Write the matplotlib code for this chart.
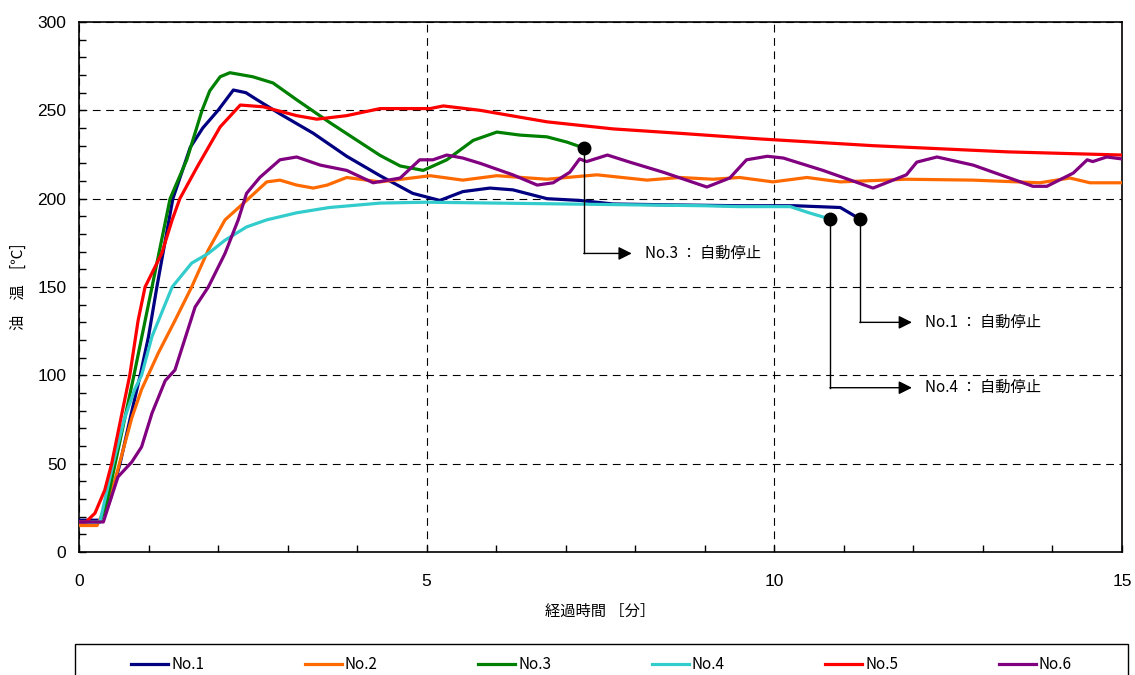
import matplotlib
matplotlib.use("Agg")
import matplotlib.pyplot as plt
from matplotlib.ticker import MultipleLocator
from matplotlib.patches import Rectangle

# 経過時間 [分] と 油温 [℃]
no1_t = [0, 0.3, 0.45, 0.59, 0.75, 0.88, 1.0, 1.12, 1.35, 1.6, 1.78, 2.0, 2.22, 2.4, 2.56, 2.89,
         3.37, 3.85, 4.33, 4.8, 5.19, 5.52, 5.91, 6.24, 6.73, 7.2, 7.68, 8.5, 9.5, 10.3, 10.95, 11.23]
no1_T = [18, 18, 30, 50, 78, 100, 122, 150, 200, 229, 240, 250, 261.5, 260, 256, 248,
         237, 224, 213, 203, 199, 204, 206, 205, 200, 199, 197, 196.5, 196, 196, 195, 188.5]

no2_t = [0, 0.26, 0.4, 0.52, 0.76, 0.9, 1.14, 1.38, 1.62, 1.86, 2.1, 2.41, 2.7, 2.89, 3.13, 3.37,
         3.57, 3.85, 4.33, 5.05, 5.52, 6.01, 6.73, 7.45, 8.17, 8.64, 9.12, 9.5, 9.98, 10.47, 10.95,
         11.9, 12.86, 13.82, 14.25, 14.54, 15.0]
no2_T = [15, 15, 27, 41, 76, 92, 112.6, 131, 150, 171, 188, 199, 209.5, 210.5, 207.7, 206,
         207.7, 212, 209.5, 213, 210.5, 213, 211, 213.5, 210.5, 212, 211, 212, 209.5, 212, 209.5,
         211, 210.5, 209, 211.7, 209, 209]

no3_t = [0, 0.3, 0.4, 0.52, 0.79, 1.05, 1.31, 1.55, 1.77, 1.88, 2.03, 2.17, 2.5, 2.79, 3.13, 3.61,
         4.33, 4.62, 4.95, 5.29, 5.67, 6.01, 6.34, 6.73, 7.02, 7.26]
no3_T = [17, 17, 28, 50, 100, 150, 200, 222, 250, 261, 269, 271.3, 269, 265.5, 256, 243,
         224.5, 218.5, 216, 222, 233, 237.7, 236, 235, 232, 228.7]

no4_t = [0, 0.3, 0.49, 0.65, 0.8, 0.9, 1.05, 1.34, 1.62, 1.86, 2.1, 2.41, 2.7, 3.13, 3.6, 4.33,
         5.0, 6.0, 7.0, 8.0, 9.0, 9.5, 10.23, 10.5, 10.8]
no4_T = [17, 17, 50, 75, 92, 100, 122, 150, 163.5, 169, 176.5, 184, 188, 192, 195, 197.5,
         198, 197.5, 197, 196.5, 196, 195.5, 195.5, 192, 188.5]

no5_t = [0, 0.1, 0.23, 0.37, 0.47, 0.62, 0.73, 0.85, 0.95, 1.19, 1.34, 1.45, 1.7, 2.03, 2.32, 2.65,
         3.13, 3.42, 3.85, 4.33, 5.05, 5.24, 5.77, 6.73, 7.68, 8.64, 9.8, 11.42, 13.35, 15.0]
no5_T = [17, 17, 22, 35, 50, 79, 100, 131, 150, 169, 188, 200, 218, 240.6, 253, 252,
         247, 245, 247, 251, 251, 252.5, 250, 243.5, 239.5, 237, 233.8, 230, 226.5, 224.7]

no6_t = [0, 0.35, 0.42, 0.56, 0.76, 0.9, 1.05, 1.24, 1.38, 1.67, 1.86, 2.1, 2.29, 2.41, 2.6, 2.89,
         3.13, 3.47, 3.85, 4.23, 4.62, 4.9, 5.09, 5.29, 5.52, 5.77, 6.24, 6.59, 6.82, 7.06, 7.2,
         7.3, 7.6, 7.92, 8.4, 9.03, 9.36, 9.6, 9.9, 10.13, 10.7, 11.42, 11.9, 12.05, 12.34, 12.86,
         13.72, 13.92, 14.3, 14.5, 14.58, 14.78, 15.0]
no6_T = [17, 17, 25.5, 42.5, 51, 59.5, 78.6, 97, 103, 138.7, 150, 169, 188, 203, 212, 222,
         223.6, 219, 216, 209, 211.7, 222, 222, 224.7, 223, 220, 213.5, 207.7, 209, 215, 222.5,
         221, 224.7, 220.7, 215, 206.6, 211.7, 222, 224, 223, 216, 206, 213.5, 220.7, 223.6, 219,
         207, 207, 214.5, 222, 221, 223.6, 222.5]

labels = ['No.1', 'No.2', 'No.3', 'No.4', 'No.5', 'No.6']
colors = ['#000080', '#FF6A00', '#008000', '#33CCCC', '#FF0000', '#800080']

# 自動停止の注記: 系列番号, 注記の高さ [℃]
stop_labels = ['No.3 ： 自動停止', 'No.1 ： 自動停止', 'No.4 ： 自動停止']
stop_series = [2, 0, 3]
stop_label_T = [169, 130, 93]
stop_arrow_t = [7.95, 11.98, 11.98]

jp = ['Noto Sans CJK JP', 'DejaVu Sans']
num = ['Liberation Sans', 'DejaVu Sans']

fig = plt.figure(figsize=(11.35, 6.75), dpi=100)
ax = fig.add_axes([0.0696, 0.1822, 0.9189, 0.7852])

series = [(no1_t, no1_T), (no2_t, no2_T), (no3_t, no3_T),
          (no4_t, no4_T), (no5_t, no5_T), (no6_t, no6_T)]
for (t, T), lab, c in zip(series, labels, colors):
    ax.plot(t, T, color=c, lw=2.3, label=lab, solid_joinstyle='round', zorder=3)

for txt, si, yl, tip in zip(stop_labels, stop_series, stop_label_T, stop_arrow_t):
    t_end = series[si][0][-1]
    T_end = series[si][1][-1]
    ax.plot([t_end, t_end], [T_end, yl], color='k', lw=1, zorder=4)
    ax.annotate('', xy=(tip, yl), xytext=(t_end, yl),
                arrowprops=dict(arrowstyle='-|>', color='k', lw=1, mutation_scale=20,
                                shrinkA=0, shrinkB=0), zorder=4)
    ax.plot(t_end, T_end, 'o', color='k', ms=9, zorder=5)
    ax.text(tip + 0.19, yl, txt, fontsize=11, family=jp, va='center', ha='left')

ax.set_xlim(0, 15)
ax.set_ylim(0, 300)
ax.xaxis.set_major_locator(MultipleLocator(5))
ax.xaxis.set_minor_locator(MultipleLocator(1))
ax.yaxis.set_major_locator(MultipleLocator(50))
ax.yaxis.set_minor_locator(MultipleLocator(10))
ax.tick_params(axis='both', which='both', direction='in', length=5, width=1, color='k')
ax.tick_params(axis='x', which='major', pad=16, labelsize=12.5)
ax.tick_params(axis='y', which='major', pad=9, labelsize=12.5)
for lbl in ax.get_xticklabels() + ax.get_yticklabels():
    lbl.set_family(num)

ax.grid(True, which='major', color='k', lw=0.8, linestyle=(0, (7, 5)))
for sp in ax.spines.values():
    sp.set_linewidth(1.2)
    sp.set_color('k')

ax.set_xlabel('経過時間 ［分］', fontsize=11, family=jp, labelpad=10)
ax.set_ylabel('油　温　[℃]', fontsize=11, family=jp)
ax.yaxis.set_label_coords(-0.05, 0.5)

# 凡例の枠 (下端は画像の外まで続く)
fig.patches.append(Rectangle((75 / 1135, -0.05), 1053 / 1135, 0.05 + 31 / 675,
                             transform=fig.transFigure, fill=False, edgecolor='k', lw=1))
leg = fig.legend(loc='center', bbox_to_anchor=(0.53, 0.015), ncol=6, frameon=False,
                 handlelength=2.4, handletextpad=0.2, columnspacing=6.6,
                 prop={'family': jp, 'size': 11})

fig.savefig('out.png', dpi=100)
